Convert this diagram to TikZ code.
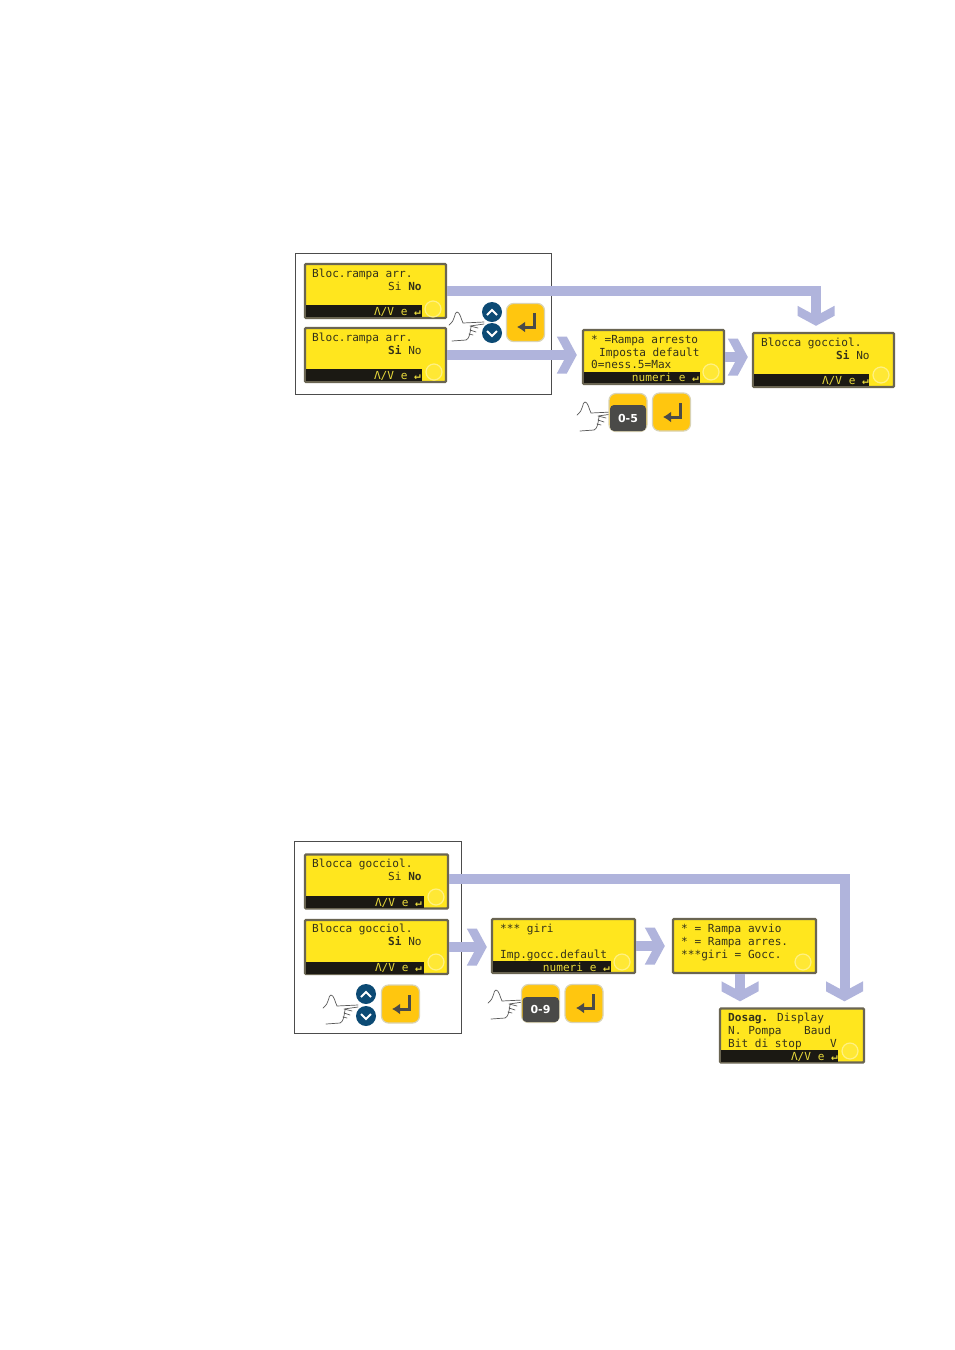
\documentclass[tikz,border=0pt]{standalone}
\usepackage{fontspec}
\usetikzlibrary{arrows.meta}
\newfontfamily\lcdfont{DejaVu Sans Mono}
\newfontfamily\keyfont{DejaVu Sans}
\definecolor{lcdyellow}{HTML}{FFE61E}
\definecolor{lcdedge}{HTML}{6A6552}
\definecolor{lcdink}{HTML}{34321A}
\definecolor{barblack}{HTML}{1B1913}
\definecolor{barink}{HTML}{EADB3C}
\definecolor{flowblue}{HTML}{B0B4DC}
\definecolor{keyblue}{HTML}{0C4A74}
\definecolor{keyamber}{HTML}{FFC60F}
\definecolor{keyedge}{HTML}{D9D3B4}
\definecolor{keydark}{HTML}{4A4A48}
\pgfdeclarearrow{
	name=FlowHead,
	setup code={
		\pgfarrowssettipend{0pt}
		\pgfarrowssetlineend{-9pt}
		\pgfarrowssetbackend{-20pt}
		\pgfarrowshullpoint{0pt}{0pt}
		\pgfarrowshullpoint{-20pt}{18.5pt}
		\pgfarrowshullpoint{-20pt}{-18.5pt}
	},
	drawing code={
		\pgfpathmoveto{\pgfqpoint{0pt}{0pt}}
		\pgfpathlineto{\pgfqpoint{-10pt}{18.5pt}}
		\pgfpathlineto{\pgfqpoint{-20pt}{18.5pt}}
		\pgfpathlineto{\pgfqpoint{-10pt}{0pt}}
		\pgfpathlineto{\pgfqpoint{-20pt}{-18.5pt}}
		\pgfpathlineto{\pgfqpoint{-10pt}{-18.5pt}}
		\pgfpathclose
		\pgfusepathqfill
	}
}
\tikzset{
	lcdbox/.style={draw=lcdedge,fill=lcdyellow,line width=2.4pt,rounded corners=1pt,inner sep=0pt,minimum width=#1,minimum height=54pt},
	lcdtext/.style={anchor=base west,inner sep=0pt,text=lcdink,font=\lcdfont\fontsize{11.1}{13}\selectfont},
	bartext/.style={anchor=base east,inner sep=0pt,text=barink,font=\lcdfont\fontsize{11.1}{13}\selectfont},
	lcdbar/.style={fill=barblack},
	lcdglow/.style={draw=lcdyellow!55!white,line width=1.2pt,fill=lcdyellow!90!white},
	framebox/.style={draw=black!70,line width=0.8pt,fill=white},
	flowarrow/.style={draw=flowblue,line width=10pt,-FlowHead},
	roundkey/.style={circle,fill=keyblue,minimum size=20pt,inner sep=0pt},
	squarekey/.style={draw=keyedge,line width=1.2pt,fill=keyamber,rounded corners=7pt,minimum size=38pt,inner sep=0pt},
	keymark/.style={draw=white,line width=1.8pt},
	entermark/.style={draw=keydark,line width=3pt,-{Latex[length=8pt,width=11pt]}},
	handline/.style={draw=black!65,line width=0.7pt,line cap=round},
	pics/hand/.style={code={
		\draw[handline] (0,0) -- (-21,1) .. controls (-23,-3) and (-24,-10) .. (-27,-10) .. controls (-30,-10) and (-28,-2) .. (-35,3);
		\draw[handline] (0,2) -- (-14,4) (-14,4) -- (-6,6) (-14,8) -- (-8,10) (-15,12) -- (-11,13) (-13,5) .. controls (-14,12) and (-15,17) .. (-18,18) -- (-32,19);
	}}
}
\begin{document}
\begin{tikzpicture}[x=1pt,y=-1pt]
	\useasboundingbox (0,0) rectangle (954,1350);
	\fill[white] (0,0) rectangle (954,1350);
	% upper group
	\draw[framebox] (295,253) rectangle (551,394);
	\node[lcdbox=141pt] (lcdA) at (375.5,291) {};
	\node[lcdbox=141pt] (lcdB) at (375.5,355) {};
	\node[lcdbox=141pt] (lcdC) at (653.5,357) {};
	\node[lcdbox=141pt] (lcdD) at (823.5,360) {};
	\fill[lcdbar] (306,305) rectangle (422,317);
	\fill[lcdbar] (306,369) rectangle (422,381);
	\fill[lcdbar] (584,372) rectangle (700,383);
	\fill[lcdbar] (754,374) rectangle (869,386);
	\draw[lcdglow] (433,309) circle (8);
	\draw[lcdglow] (434,372) circle (8);
	\draw[lcdglow] (711,372) circle (8);
	\draw[lcdglow] (881,375) circle (8);
	\node[lcdtext] (txtAa) at (312,277) {Bloc.rampa arr.};
	\node[lcdtext] (txtAb) at (388,290) {Si \textbf{No}};
	\node[bartext] (txtAc) at (421,315) {Λ/V e \textbf{↵}};
	\node[lcdtext] (txtBa) at (312,341) {Bloc.rampa arr.};
	\node[lcdtext] (txtBb) at (388,354) {\textbf{Si} No};
	\node[bartext] (txtBc) at (421,379) {Λ/V e \textbf{↵}};
	\node[lcdtext] (txtCa) at (591,343) {* =Rampa arresto};
	\node[lcdtext] (txtCb) at (599,356) {Imposta default};
	\node[lcdtext] (txtCc) at (591,368) {0=ness.5=Max};
	\node[bartext] (txtCd) at (699,381) {numeri e \textbf{↵}};
	\node[lcdtext] (txtDa) at (761,346) {Blocca gocciol.};
	\node[lcdtext] (txtDb) at (836,359) {\textbf{Si} No};
	\node[bartext] (txtDc) at (869,384) {Λ/V e \textbf{↵}};
	\draw[flowarrow,shorten >=6pt] (lcdA.east) -| ([xshift=-7.5pt]lcdD.north);
	\draw[flowarrow,shorten >=5pt] (lcdB.east) -- (lcdB.east -| lcdC.west);
	\draw[flowarrow,shorten >=4pt] (lcdC.east) -- (lcdC.east -| lcdD.west);
	% keys of the upper group
	\pic at (484,322) {hand};
	\node[roundkey] (keyUpA) at (492,312) {};
	\node[roundkey] (keyDownA) at (492,333) {};
	\draw[keymark] (487,315) -- (492,310) -- (497,315);
	\draw[keymark] (487,331) -- (492,336) -- (497,331);
	\node[squarekey] (keyEnterA) at (525.5,322.5) {};
	\draw[entermark] (534,313) -- (534,327) -- (517,327);
	\pic at (612,412) {hand};
	\node[squarekey] (keyNumC) at (628,412.5) {};
	\fill[keydark,rounded corners=4pt] (610,405) rectangle (646,431);
	\node[inner sep=0pt,text=white,font=\keyfont\bfseries\fontsize{11}{13}\selectfont] (txtNumC) at (628,418) {0-5};
	\node[squarekey] (keyEnterC) at (671.5,412) {};
	\draw[entermark] (680,403) -- (680,417) -- (663,417);
	% lower group
	\draw[framebox] (294,841) rectangle (461,1033);
	\node[lcdbox=143pt] (lcdE) at (376.5,881.5) {};
	\node[lcdbox=143pt] (lcdF) at (376.5,947) {};
	\node[lcdbox=143pt] (lcdG) at (563.5,946) {};
	\node[lcdbox=143pt] (lcdH) at (744.5,946) {};
	\node[lcdbox=144pt] (lcdI) at (792,1035.5) {};
	\fill[lcdbar] (306,896) rectangle (424,908);
	\fill[lcdbar] (306,962) rectangle (424,974);
	\fill[lcdbar] (493,961) rectangle (611,972);
	\fill[lcdbar] (721,1050) rectangle (838,1062);
	\draw[lcdglow] (436,897) circle (8);
	\draw[lcdglow] (436,962) circle (8);
	\draw[lcdglow] (622,962) circle (8);
	\draw[lcdglow] (803,962) circle (8);
	\draw[lcdglow] (850,1051) circle (8);
	\node[lcdtext] (txtEa) at (312,867) {Blocca gocciol.};
	\node[lcdtext] (txtEb) at (388,880) {Si \textbf{No}};
	\node[bartext] (txtEc) at (422,906) {Λ/V e \textbf{↵}};
	\node[lcdtext] (txtFa) at (312,932) {Blocca gocciol.};
	\node[lcdtext] (txtFb) at (388,945) {\textbf{Si} No};
	\node[bartext] (txtFc) at (422,971) {Λ/V e \textbf{↵}};
	\node[lcdtext] (txtGa) at (500,932) {*** giri};
	\node[lcdtext] (txtGb) at (500,958) {Imp.gocc.default};
	\node[bartext] (txtGc) at (610,971) {numeri e \textbf{↵}};
	\node[lcdtext] (txtHa) at (681,932) {* = Rampa avvio};
	\node[lcdtext] (txtHb) at (681,945) {* = Rampa arres.};
	\node[lcdtext] (txtHc) at (681,958) {***giri = Gocc.};
	\node[lcdtext] (txtIa) at (728,1021) {\textbf{Dosag.} Display};
	\node[lcdtext] (txtIb) at (728,1034) {N. Pompa};
	\node[lcdtext] (txtIc) at (804,1034) {Baud};
	\node[lcdtext] (txtId) at (728,1047) {Bit di stop};
	\node[lcdtext] (txtIe) at (830,1047) {V};
	\node[bartext] (txtIf) at (838,1060) {Λ/V e \textbf{↵}};
	\draw[flowarrow,shorten >=6pt] ([yshift=2.5pt]lcdE.east) -| ([xshift=52.5pt]lcdI.north);
	\draw[flowarrow,shorten >=4pt] (lcdF.east) -- (lcdF.east -| lcdG.west);
	\draw[flowarrow,shorten >=7pt] (lcdG.east) -- (lcdG.east -| lcdH.west);
	\draw[flowarrow,shorten >=6pt] ([xshift=-4.5pt]lcdH.south) -- ([xshift=-4.5pt]lcdH.south |- lcdI.north);
	% keys of the lower group
	\pic at (358,1005) {hand};
	\node[roundkey] (keyUpF) at (366,994) {};
	\node[roundkey] (keyDownF) at (366,1016) {};
	\draw[keymark] (361,997) -- (366,992) -- (371,997);
	\draw[keymark] (361,1014) -- (366,1019) -- (371,1014);
	\node[squarekey] (keyEnterF) at (400.5,1004) {};
	\draw[entermark] (409,995) -- (409,1009) -- (392,1009);
	\pic at (523,1000) {hand};
	\node[squarekey] (keyNumG) at (540.5,1003.5) {};
	\fill[keydark,rounded corners=4pt] (522.5,997) rectangle (559,1022);
	\node[inner sep=0pt,text=white,font=\keyfont\bfseries\fontsize{11}{13}\selectfont] (txtNumG) at (540.5,1009) {0-9};
	\node[squarekey] (keyEnterG) at (584,1003.5) {};
	\draw[entermark] (593,994) -- (593,1008) -- (576,1008);
\end{tikzpicture}
\end{document}
